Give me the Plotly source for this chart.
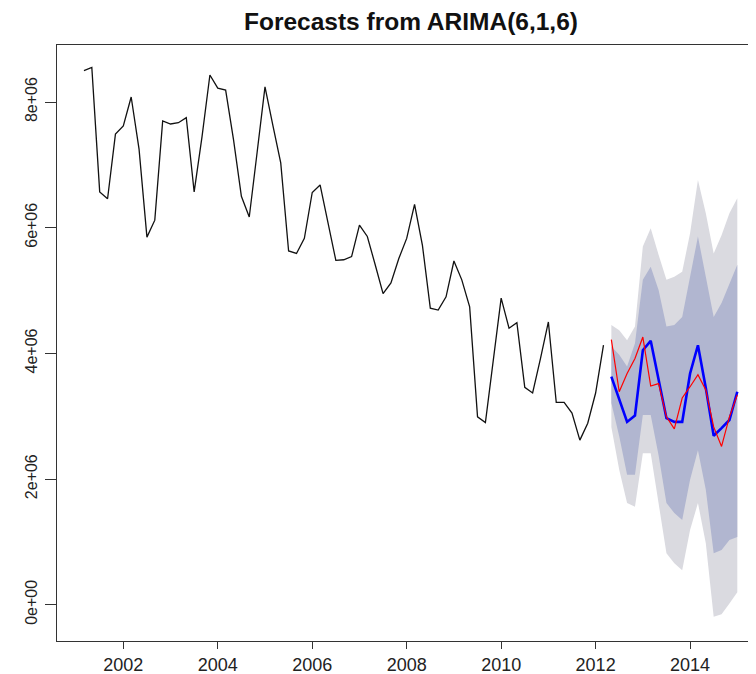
import numpy as np
import plotly.graph_objects as go

# ---- data (values in units) ----
series_start = 2001 + 1/6
freq = 6
observed = [8.50, 8.55, 6.57, 6.46, 7.49, 7.62, 8.08, 7.25, 5.85, 6.12,
            7.70, 7.65, 7.67, 7.75, 6.57, 7.45, 8.43, 8.22, 8.19, 7.40,
            6.50, 6.17, 7.20, 8.24, 7.63, 7.03, 5.63, 5.59, 5.83, 6.56,
            6.68, 6.08, 5.48, 5.49, 5.54, 6.04, 5.86, 5.41, 4.95, 5.12,
            5.51, 5.83, 6.37, 5.72, 4.72, 4.69, 4.90, 5.47, 5.17, 4.74,
            2.99, 2.90, 3.90, 4.88, 4.40, 4.49, 3.46, 3.37, 3.92, 4.50,
            3.22, 3.22, 3.05, 2.62, 2.89, 3.37, 4.13]
forecast_mean = [3.63, 3.27, 2.91, 3.01, 4.05, 4.20, 3.58, 2.97, 2.91, 2.91,
                 3.68, 4.13, 3.45, 2.69, 2.81, 2.94, 3.39]
actual = [4.22, 3.39, 3.68, 3.92, 4.26, 3.48, 3.52, 2.99, 2.80, 3.29,
          3.47, 3.66, 3.42, 2.83, 2.52, 2.99, 3.34]
hi95 = [4.45, 4.37, 4.21, 4.43, 5.70, 5.99, 5.57, 5.17, 5.22, 5.30,
        5.91, 6.76, 6.23, 5.59, 5.88, 6.23, 6.47]
hi80 = [4.11, 3.98, 3.79, 4.16, 5.17, 5.38, 5.01, 4.43, 4.45, 4.58,
        5.22, 5.86, 5.22, 4.58, 4.80, 5.12, 5.41]
lo80 = [3.21, 2.68, 2.07, 2.07, 3.02, 3.02, 2.38, 1.62, 1.46, 1.35,
        1.99, 2.46, 1.83, 0.82, 0.87, 1.03, 1.08]
lo95 = [2.83, 2.15, 1.62, 1.56, 2.41, 2.41, 1.62, 0.82, 0.66, 0.55,
        1.19, 1.62, 0.98, -0.19, -0.15, 0.02, 0.20]
scale = 1e6
x_ticks = [2002, 2004, 2006, 2008, 2010, 2012, 2014]
y_ticks = [0, 2e6, 4e6, 6e6, 8e6]
y_ticktext = ["0e+00", "2e+06", "4e+06", "6e+06", "8e+06"]

t_obs = series_start + np.arange(len(observed)) / freq
t_fc = t_obs[-1] + (np.arange(len(forecast_mean)) + 1) / freq

obs = np.array(observed) * scale
fc = np.array(forecast_mean) * scale
act = np.array(actual) * scale
h95 = np.array(hi95) * scale
h80 = np.array(hi80) * scale
l80 = np.array(lo80) * scale
l95 = np.array(lo95) * scale

fig = go.Figure()
fig.add_trace(go.Scatter(
    x=np.concatenate([t_fc, t_fc[::-1]]), y=np.concatenate([h95, l95[::-1]]),
    fill="toself", fillcolor="#DADAE0", line=dict(width=0), mode="lines",
    hoverinfo="skip", showlegend=False))
fig.add_trace(go.Scatter(
    x=np.concatenate([t_fc, t_fc[::-1]]), y=np.concatenate([h80, l80[::-1]]),
    fill="toself", fillcolor="#B1B6D0", line=dict(width=0), mode="lines",
    hoverinfo="skip", showlegend=False))
fig.add_trace(go.Scatter(x=t_obs, y=obs, mode="lines",
                         line=dict(color="#111111", width=1.3), showlegend=False))
fig.add_trace(go.Scatter(x=t_fc, y=fc, mode="lines",
                         line=dict(color="#0000FF", width=2.6), showlegend=False))
fig.add_trace(go.Scatter(x=t_fc, y=act, mode="lines",
                         line=dict(color="#FF0000", width=1.2), showlegend=False))

# The page body adds an 8px offset, so the figure is 8px smaller than the window.
font_family = "Liberation Sans, Arial, sans-serif"
fig.update_layout(
    width=748, height=666,
    margin=dict(l=49, r=0, t=37, b=33),
    paper_bgcolor="white", plot_bgcolor="white",
    font=dict(family=font_family, color="#222222"),
    title=dict(text="<b>Forecasts from ARIMA(6,1,6)</b>",
               font=dict(size=24.5, family=font_family, color="#111111"),
               x=0.5064, xref="paper", xanchor="center",
               y=1 - 13/666, yref="container", yanchor="middle"),
)
fig.update_xaxes(range=[2000.596, 2015.396], tickvals=x_ticks,
                 ticktext=[str(v) for v in x_ticks],
                 ticks="outside", ticklen=7, tickwidth=1.2, tickcolor="#333333",
                 showline=True, linecolor="#333333", linewidth=1.3, mirror=True,
                 showgrid=False, zeroline=False, automargin=False,
                 tickfont=dict(size=18, family=font_family, color="#222222"),
                 ticklabelstandoff=0)
fig.update_yaxes(range=[-0.576e6, 8.907e6], tickvals=y_ticks, ticktext=y_ticktext,
                 tickangle=-90,
                 ticks="outside", ticklen=11, tickwidth=1.2, tickcolor="#333333",
                 showline=True, linecolor="#333333", linewidth=1.3, mirror=False,
                 showgrid=False, zeroline=False, automargin=False,
                 tickfont=dict(size=16, family=font_family, color="#222222"),
                 ticklabelstandoff=1)

fig.write_html("out.html")
